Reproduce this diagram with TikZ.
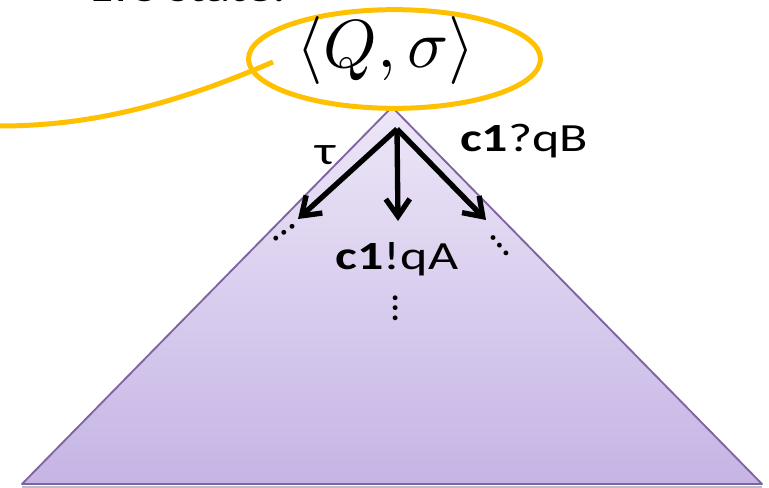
\documentclass[tikz,border=0pt]{standalone}
\usepackage{amsmath,amssymb}
\usepackage{fontspec}
\setmainfont{Carlito}
\usetikzlibrary{arrows.meta,shapes.geometric}
\definecolor{gold}{HTML}{FFC000}
\definecolor{lilac}{HTML}{8064A2}
\definecolor{lilactop}{HTML}{EDE7F7}
\definecolor{lilacbot}{HTML}{C5B4E5}

\begin{document}
\begin{tikzpicture}[x=0.75pt, y=-0.75pt, every node/.style={inner sep=0pt, outer sep=0pt}, lbl/.style={font=\fontsize{30}{36}\selectfont, xscale=1.3}, mv/.style={line width=4pt, -{Straight Barb[length=13pt, width=18pt, line width=4pt]}}, dts/.style={font=\fontsize{30}{36}\selectfont}]
	\useasboundingbox (0,0) rectangle (769,488);
	% tree of runs below the state
	\coordinate (apex) at (392,107);
	\coordinate (bl) at (22,484);
	\coordinate (br) at (762,484);
	\draw[gray!50, line width=2pt] ([yshift=-2.5pt]bl) -- ([yshift=-2.5pt]br);
	\shade[top color=lilactop, bottom color=lilacbot] (apex) -- (bl) -- (br) -- cycle;
	\draw[lilac, line width=1.4pt, line join=round] (apex) -- (bl) -- (br) -- cycle;
	% state and its ring
	\node[draw=gold, line width=3.75pt, ellipse, minimum width=219pt, minimum height=74pt] (ring) at (394.5,59) {};
	\node[anchor=base, scale=5.1] (st) at (386,68) {$\langle Q,\sigma\rangle$};
	\node[lbl, anchor=base west] (head) at (90,2) {LTS state:};
	\coordinate (tail) at (273,62);
	\coordinate (edge) at (0,126);
	\draw[gold, line width=3.75pt] (tail) .. controls (173,105) and (90,126) .. (edge);
	% moves out of the state
	\coordinate (src) at (397,129);
	\coordinate (t1) at (298,219);
	\coordinate (t2) at (398,221);
	\coordinate (t3) at (486,220);
	\foreach \b in {t1, t2, t3} {\draw[mv] (src) -- (\b);}
	\node[lbl, anchor=base] (tau) at (326,165) {τ};
	\node[lbl, anchor=base] (recv) at (524,152) {\textbf{c1}?qB};
	\node[lbl, anchor=base] (send) at (397,270) {\textbf{c1}!qA};
	\node[dts, rotate=36] (d1) at (284,233) {…};
	\node[dts, rotate=-50] (d3) at (500,246) {…};
	\node[dts, rotate=-90] (d2) at (396,308) {…};
\end{tikzpicture}
\end{document}
